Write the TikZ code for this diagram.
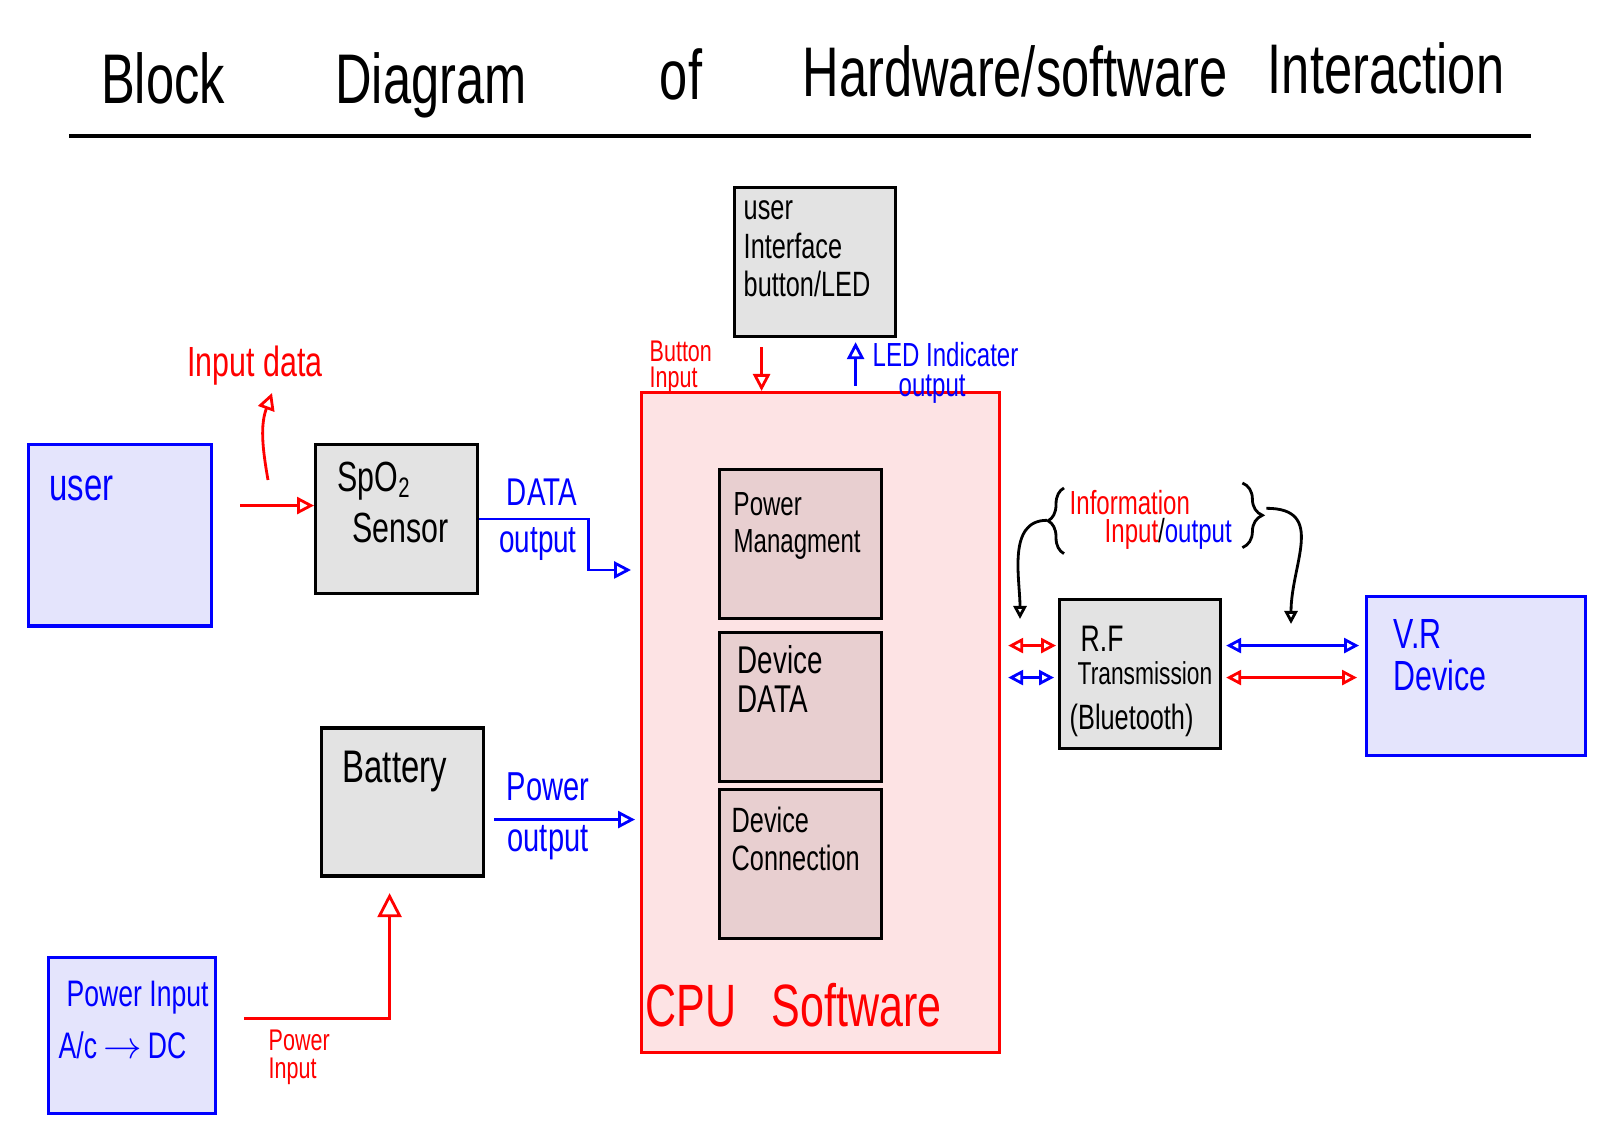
\documentclass[tikz,border=0pt]{standalone}
\usepackage{fontspec}
\setmainfont[FakeStretch=0.72]{Liberation Sans}
\usetikzlibrary{arrows.meta,decorations.pathreplacing}

\definecolor{fondbleu}{HTML}{E4E4FC}
\definecolor{fondgris}{HTML}{E3E3E3}
\definecolor{fondrose}{HTML}{FDE3E4}
\definecolor{fondint}{HTML}{E8CFD0}

\newcommand\fs[2]{\fontsize{#1}{#2}\selectfont}

\tikzset{
  bluebox/.style={draw=blue, fill=fondbleu, line width=0.9pt, inner sep=0pt, anchor=north west},
  greybox/.style={draw=black, fill=fondgris, line width=0.9pt, inner sep=0pt, anchor=north west},
  cpubox/.style={draw=red, fill=fondrose, line width=0.9pt, inner sep=0pt, anchor=north west},
  subbox/.style={draw=black, fill=fondint, line width=0.9pt, inner sep=0pt, anchor=north west},
  txt/.style={inner sep=0pt, align=left, anchor=north west},
  lab/.style={inner sep=0pt},
  redarr/.style={red, line width=0.8pt, -{Triangle[open,length=1.7mm,width=1.7mm]}},
  bluearr/.style={blue, line width=0.8pt, -{Triangle[open,length=1.7mm,width=1.7mm]}},
  redboth/.style={red, line width=0.8pt, {Triangle[open,length=1.5mm,width=1.5mm]}-{Triangle[open,length=1.5mm,width=1.5mm]}},
  blueboth/.style={blue, line width=0.8pt, {Triangle[open,length=1.5mm,width=1.5mm]}-{Triangle[open,length=1.5mm,width=1.5mm]}},
  blackarr/.style={black, line width=0.8pt, -{Triangle[open,length=1.3mm,width=1.3mm]}},
  accolade/.style={decorate, decoration={brace, amplitude=1.6mm}, line width=0.8pt}
}

\begin{document}
\begin{tikzpicture}
    \useasboundingbox (0,0) rectangle (16,11.3);
    % Titre
    \node[anchor=base, font={\fs{20}{24}}] (t1) at (1.63,10.26) {Block};
    \node[anchor=base, font={\fs{20}{24}}] (t2) at (4.31,10.26) {Diagram};
    \node[anchor=base, font={\fs{20}{24}}] (t3) at (6.81,10.30) {of};
    \node[anchor=base, font={\fs{20}{24}}] (t4) at (10.15,10.33) {Hardware/software};
    \node[anchor=base, font={\fs{20}{24}}] (t5) at (13.86,10.36) {Interaction};
    \draw[line width=1.1pt] (0.69,9.94) -- (15.31,9.94);

    % Blocs
    \node[bluebox, minimum width=1.835cm, minimum height=1.815cm] (user) at (0.265,6.87) {};
    \node[greybox, minimum width=1.615cm, minimum height=1.49cm] (spo) at (3.14,6.87) {};
    \node[cpubox, minimum width=3.58cm, minimum height=6.60cm] (cpu) at (6.40,7.39) {};
    \node[subbox, minimum width=1.62cm, minimum height=1.49cm] (pm) at (7.18,6.62) {};
    \node[subbox, minimum width=1.62cm, minimum height=1.49cm] (dd) at (7.18,4.99) {};
    \node[subbox, minimum width=1.62cm, minimum height=1.49cm] (dc) at (7.18,3.42) {};
    \node[greybox, minimum width=1.61cm, minimum height=1.49cm] (ui) at (7.33,9.44) {};
    \node[greybox, minimum width=1.62cm, minimum height=1.48cm] (bat) at (3.20,4.035) {};
    \node[bluebox, minimum width=1.67cm, minimum height=1.56cm] (pin) at (0.47,1.74) {};
    \node[greybox, minimum width=1.61cm, minimum height=1.49cm] (rf) at (10.58,5.32) {};
    \node[bluebox, minimum width=2.19cm, minimum height=1.59cm] (vr) at (13.65,5.35) {};

    % Textes des blocs
    \node[txt, blue, font={\fs{13}{15}}] (usertxt) at (0.49,6.55) {user};
    \node[txt, font={\fs{12}{14.5}}] (spotxt) at (3.37,6.69) {SpO\textsubscript{2}\\\hspace*{1.5mm}Sensor};
    \node[txt, font={\fs{10}{11}}] (uitxt) at (7.43,9.30) {user\\Interface\\button/LED};
    \node[txt, font={\fs{9.5}{10.5}}] (pmtxt) at (7.33,6.38) {Power\\Managment};
    \node[txt, font={\fs{11}{11}}] (ddtxt) at (7.37,4.85) {Device\\DATA};
    \node[txt, font={\fs{10}{11}}] (dctxt) at (7.31,3.24) {Device\\Connection};
    \node[red, anchor=west, inner sep=0pt, font={\fs{17}{20}}] (cputxt) at (6.45,1.25) {CPU\hspace{3.5mm}Software};
    \node[txt, font={\fs{13}{15}}] (battxt) at (3.42,3.80) {Battery};
    \node[txt, blue, font={\fs{10.5}{15}}] (pintxt) at (0.58,1.50) {\hspace*{0.8mm}Power Input\\A/c\,$\to$\,DC};
    \node[txt, font={\fs{9}{9.5}}] (rftxt) at (10.69,5.05) {\hspace*{1.1mm}{\fs{10.5}{9.5}R.F}\\\hspace*{0.8mm}Transmission\\[1.2mm]\fs{10}{10}(Bluetooth)};
    \node[txt, blue, font={\fs{12}{12}}] (vrtxt) at (13.93,5.11) {V.R\\Device};

    % Etiquettes des liaisons
    \node[lab, red, font={\fs{12}{14}}] (indata) at (2.55,7.64) {Input data};
    \node[lab, blue, font={\fs{11}{13}}] (datalab) at (5.42,6.38) {DATA};
    \node[lab, blue, font={\fs{11}{13}}] (dataout) at (5.38,5.86) {output};
    \node[txt, red, font={\fs{8.5}{7.5}}] (btnlab) at (6.49,7.90) {Button\\Input};
    \node[txt, blue, font={\fs{9.5}{8.5}}] (ledlab) at (8.72,7.88) {LED Indicater\\\hspace*{2.6mm}output};
    \node[lab, blue, font={\fs{11.5}{13}}] (powlab) at (5.48,3.43) {Power};
    \node[lab, blue, font={\fs{11.5}{13}}] (powout) at (5.48,2.87) {output};
    \node[txt, red, font={\fs{8.5}{8}}] (pinlab) at (2.68,1.01) {Power\\Input};
    \node[txt, font={\fs{9.5}{8}}] (info) at (10.69,6.40) {\textcolor{red}{Information}\\\hspace*{3.5mm}\textcolor{red}{Input}/\textcolor{blue}{output}};

    % Liaisons
    \coordinate (indA) at (2.68,6.50);
    \coordinate (indB) at (2.72,7.37);
    \draw[redarr] (indA) to[out=100,in=-110] (indB);
    \draw[redarr, shorten <=2.7mm] ([yshift=1.35mm]spo.west -| user.east) -- ([yshift=1.35mm]spo.west);
    \coordinate (dataend) at (6.31,5.60);
    \draw[bluearr] (spo.east) -- ++(1.1,0) |- (dataend);
    \draw[redarr] ([xshift=-5.35mm,yshift=-0.9mm]ui.south) -- ([xshift=-5.35mm]ui.south |- cpu.north);
    \draw[bluearr] ([xshift=4.05mm,yshift=0.5mm]ui.south |- cpu.north) -- ([xshift=4.05mm,yshift=-0.4mm]ui.south);
    \draw[bluearr, shorten <=0.9mm, shorten >=0.5mm] ([yshift=-1.75mm]bat.east) -- ([yshift=-1.75mm]bat.east -| cpu.west);
    \draw[redarr, -{Triangle[open,length=2.4mm,width=2.4mm]}] ([xshift=2.7mm,yshift=1.7mm]pin.east) -| ([xshift=-1.3mm,yshift=-1.55mm]bat.south);

    % Bluetooth
    \draw[redboth, shorten <=0.7mm, shorten >=0.2mm] ([yshift=2.85mm]rf.west -| cpu.east) -- ([yshift=2.85mm]rf.west);
    \draw[blueboth, shorten <=0.7mm, shorten >=0.4mm] ([yshift=-0.35mm]rf.west -| cpu.east) -- ([yshift=-0.35mm]rf.west);
    \draw[blueboth, shorten <=0.4mm, shorten >=0.6mm] ([yshift=2.85mm]rf.east) -- ([yshift=2.85mm]rf.east -| vr.west);
    \draw[redboth, shorten <=0.4mm, shorten >=0.8mm] ([yshift=-0.35mm]rf.east) -- ([yshift=-0.35mm]rf.east -| vr.west);

    % Accolades
    \draw[accolade] ([xshift=-0.5mm,yshift=-0.3mm]info.south west) -- ([xshift=-0.5mm,yshift=0.2mm]info.north west);
    \draw[accolade, decoration={amplitude=2mm}] ([xshift=1mm,yshift=0.7mm]info.north east) -- ([xshift=1mm,yshift=0.3mm]info.south east);
    \coordinate (lbr) at ([xshift=-2.2mm]info.west);
    \coordinate (lend) at (10.20,5.11);
    \draw[blackarr] (lbr) to[out=180,in=90] (lend);
    \coordinate (rbr) at ([xshift=3.4mm,yshift=1.2mm]info.east);
    \coordinate (rend) at (12.91,5.06);
    \draw[blackarr] (rbr) to[out=0,in=90,looseness=1.3] (rend);
\end{tikzpicture}
\end{document}
